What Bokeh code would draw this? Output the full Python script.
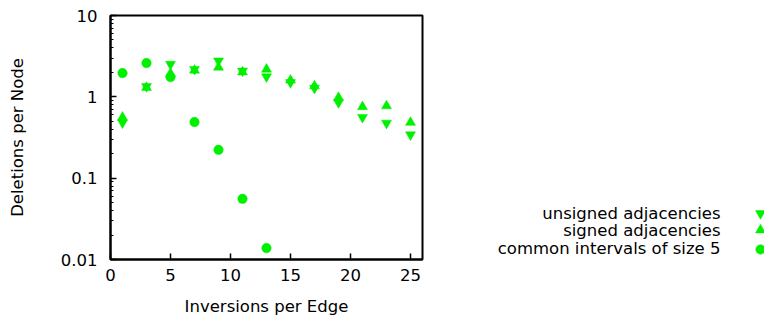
from bokeh.plotting import figure
from bokeh.layouts import row
from bokeh.models import Range1d, FixedTicker, CustomJSTickFormatter
from bokeh.core.properties import value
from bokeh.embed import file_html
from bokeh.resources import INLINE

# ---- data ----
inversions = [1, 3, 5, 7, 9, 11, 13, 15, 17, 19, 21, 23, 25]
unsigned_adj = [0.48, 1.34, 2.52, 2.18, 2.77, 2.08, 1.77, 1.50, 1.28, 0.85, 0.56, 0.475, 0.342]
signed_adj = [0.56, 1.30, 1.93, 2.12, 2.31, 2.02, 2.18, 1.60, 1.36, 0.98, 0.755, 0.773, 0.484]
ci_x = [1, 3, 5, 7, 9, 11, 13]
common_intervals = [1.96, 2.6, 1.75, 0.49, 0.223, 0.0557, 0.0138]

series_names = ["unsigned adjacencies", "signed adjacencies", "common intervals of size 5"]
series_markers = ["inverted_triangle", "triangle", "circle"]

x_ticks = [0, 5, 10, 15, 20, 25]
y_ticks = [0.01, 0.1, 1, 10]
y_minor = [m * d for d in [0.01, 0.1, 1] for m in range(2, 10)]

GREEN = "#00f000"
FONT = "DejaVu Sans"
FS = "16.5px"

MAIN_W = 440
H = 322
FRAME_TOP = 15
FRAME_BOTTOM = 259

p = figure(width=MAIN_W, height=H, y_axis_type="log",
           x_range=Range1d(0, 26), y_range=Range1d(0.01, 10),
           output_backend="svg", toolbar_location=None,
           min_border_left=110, min_border_right=18,
           min_border_top=FRAME_TOP, min_border_bottom=H - FRAME_BOTTOM)
p.grid.visible = False
p.outline_line_color = "black"
p.outline_line_width = 2
p.background_fill_color = "white"
p.border_fill_color = "white"

p.xaxis.ticker = FixedTicker(ticks=x_ticks)
p.yaxis.ticker = FixedTicker(ticks=y_ticks, minor_ticks=y_minor)
p.yaxis.formatter = CustomJSTickFormatter(code="return String(Number(tick.toPrecision(6)));")

for ax in (p.xaxis, p.yaxis):
    ax.axis_line_width = 2
    ax.axis_line_color = "black"
    ax.major_tick_in = 6
    ax.major_tick_out = 0
    ax.minor_tick_in = 3
    ax.minor_tick_out = 0
    ax.major_tick_line_width = 1.5
    ax.minor_tick_line_width = 1
    ax.major_label_text_font = FONT
    ax.major_label_text_font_size = FS
    ax.major_label_text_color = "black"
    ax.axis_label_text_font = FONT
    ax.axis_label_text_font_size = FS
    ax.axis_label_text_font_style = "normal"
    ax.axis_label_text_color = "black"

p.xaxis.minor_tick_in = 0
p.xaxis.axis_label = "Inversions per Edge"
p.yaxis.axis_label = "Deletions per Node"
p.xaxis.major_label_standoff = 9
p.xaxis.axis_label_standoff = 13
p.yaxis.major_label_standoff = 13
p.yaxis.axis_label_standoff = 31

p.scatter(inversions, unsigned_adj, marker="inverted_triangle", size=10,
          fill_color=GREEN, line_color=GREEN, line_width=0.5)
p.scatter(inversions, signed_adj, marker="triangle", size=10,
          fill_color=GREEN, line_color=GREEN, line_width=0.5)
p.scatter(ci_x, common_intervals, marker="circle", size=9.5,
          fill_color=GREEN, line_color=GREEN, line_width=0.5)

# ---- legend panel (text left, symbol right, as in the original) ----
# its frame is aligned with the main frame by the row layout, so the y range
# is expressed in page pixels of that frame
LG_W = 764 - MAIN_W
lg = figure(width=LG_W, height=H, x_range=Range1d(0, LG_W),
            y_range=Range1d(FRAME_BOTTOM, FRAME_TOP),
            output_backend="svg", toolbar_location=None,
            x_axis_location=None, y_axis_location=None,
            min_border=0, min_border_left=0, min_border_right=0,
            min_border_top=FRAME_TOP, min_border_bottom=H - FRAME_BOTTOM)
lg.grid.visible = False
lg.outline_line_color = None
lg.background_fill_color = "white"
lg.border_fill_color = "white"
text_y = [213, 230, 247.5]
marker_y = [213, 229.5, 249]
lg.text(x=[280] * 3, y=text_y, text=series_names, text_align="right",
        text_baseline="middle", text_font=value(FONT), text_font_size=FS,
        text_color="black")
lg.scatter(x=[320] * 3, y=marker_y, marker=series_markers, size=[10, 10, 9.5],
           fill_color=GREEN, line_color=GREEN, line_width=0.5)

layout = row(p, lg, spacing=0)
open("out.html", "w").write(file_html(layout, INLINE))
